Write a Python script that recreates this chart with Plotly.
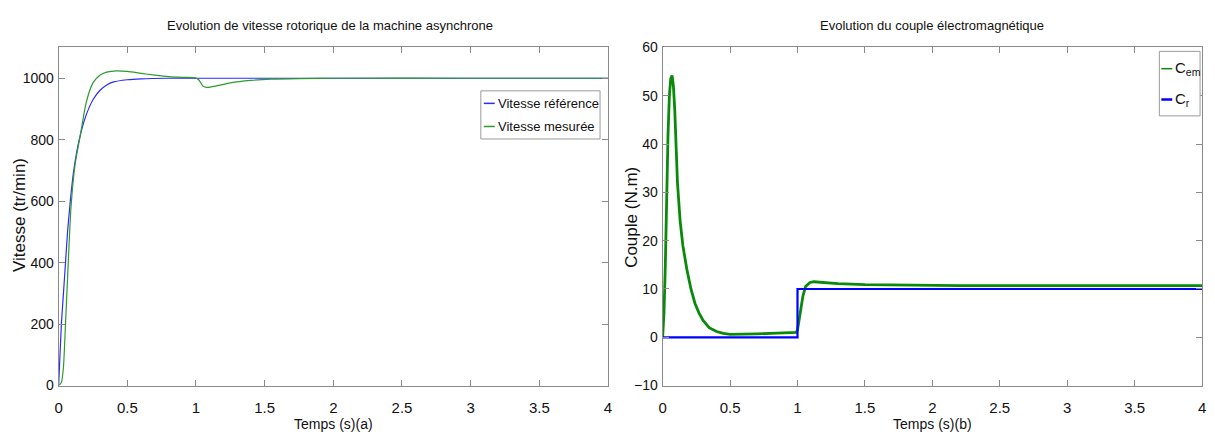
import plotly.graph_objects as go

# Rotor speed (tr/min) versus time (s)
t_ref = [0, 0.01, 0.02, 0.035, 0.05, 0.065, 0.085, 0.11, 0.15, 0.2, 0.25, 0.3, 0.35, 0.4, 0.5, 0.6, 0.8, 1.0, 2.0, 3.0, 4.0]
v_ref = [0, 100, 200, 300, 400, 500, 600, 700, 800, 880, 930, 960, 978, 988, 995, 998, 1000, 1000, 1000, 1000, 1000]

t_mes = [0, 0.02, 0.035, 0.05, 0.07, 0.09, 0.12, 0.16, 0.2, 0.25, 0.3, 0.35, 0.42, 0.5, 0.6, 0.7, 0.8, 0.9, 0.99,
         1.02, 1.05, 1.08, 1.15, 1.25, 1.4, 1.55, 1.75, 2.0, 3.0, 4.0]
v_mes = [0, 10, 60, 200, 400, 580, 720, 820, 920, 985, 1010, 1020, 1024, 1022, 1016, 1010, 1005, 1003, 1002,
         995, 975, 970, 975, 985, 993, 997, 999, 1000, 1000, 1000]

# Electromagnetic torque and load torque (N.m) versus time (s)
t_cem = [0, 0.01, 0.02, 0.03, 0.04, 0.05, 0.06, 0.07, 0.08, 0.09, 0.1, 0.11, 0.13, 0.15, 0.18, 0.21, 0.24, 0.27,
         0.3, 0.345, 0.4, 0.45, 0.5, 0.6, 0.7, 0.8, 0.9, 0.99, 1.0, 1.02, 1.04, 1.06, 1.09, 1.12, 1.2, 1.3,
         1.5, 1.8, 2.2, 3.0, 4.0]
c_em = [0, 5, 15, 30, 42, 50, 53.5, 54.2, 52, 47, 40, 32, 24, 19, 14, 10, 7, 5,
        3.5, 2, 1.2, 0.8, 0.6, 0.6, 0.7, 0.8, 0.9, 1.0, 1.5, 5, 8.5, 10.5, 11.3, 11.5, 11.3, 11.1,
        10.9, 10.8, 10.7, 10.7, 10.7]

t_cr = [0, 1.0, 1.0, 4.0]
c_r = [0, 0, 10, 10]

x_ticks = [0, 0.5, 1, 1.5, 2, 2.5, 3, 3.5, 4]
x_labels = ["0", "0.5", "1", "1.5", "2", "2.5", "3", "3.5", "4"]
yv_ticks = [0, 200, 400, 600, 800, 1000]
yc_ticks = [-10, 0, 10, 20, 30, 40, 50, 60]

FONT = "Liberation Sans, Arial, sans-serif"
INK = "#111111"
AXC = "#8a8a8a"
W, H = 1215, 435

BLUE_THIN = "#2b2bff"
GREEN_THIN = "#2e9a2e"
GREEN_THICK = "#0a8a0a"
BLUE_THICK = "#0000ff"

fig = go.Figure()

fig.add_trace(go.Scatter(x=t_ref, y=v_ref, mode="lines", name="Vitesse référence", showlegend=False,
                         line=dict(color=BLUE_THIN, width=1.2, shape="spline", smoothing=0.6),
                         xaxis="x", yaxis="y"))
fig.add_trace(go.Scatter(x=t_mes, y=v_mes, mode="lines", name="Vitesse mesurée", showlegend=False,
                         line=dict(color=GREEN_THIN, width=1.2, shape="spline", smoothing=0.6),
                         xaxis="x", yaxis="y"))
fig.add_trace(go.Scatter(x=t_cem, y=c_em, mode="lines", name="C<sub>em</sub>", showlegend=False,
                         line=dict(color=GREEN_THICK, width=2.8),
                         xaxis="x2", yaxis="y2"))
fig.add_trace(go.Scatter(x=t_cr, y=c_r, mode="lines", name="C<sub>r</sub>", showlegend=False,
                         line=dict(color=BLUE_THICK, width=2.2),
                         xaxis="x2", yaxis="y2"))

common_x = dict(range=[0, 4], tickvals=x_ticks, ticktext=x_labels, ticks="inside", ticklen=6,
                tickcolor=AXC, showline=True, linecolor=AXC, linewidth=1, mirror="ticks",
                showgrid=False, zeroline=False, ticklabelstandoff=8,
                tickfont=dict(family=FONT, size=15, color=INK),
                title_font=dict(family=FONT, size=14, color=INK), title_standoff=2)
common_y = dict(ticks="inside", ticklen=6, tickcolor=AXC, showline=True, linecolor=AXC, linewidth=1,
                mirror="ticks", showgrid=False, zeroline=False, ticklabelstandoff=1,
                tickfont=dict(family=FONT, size=14, color=INK))


def px(xp):
    return xp / W


def py(yp):
    return 1 - yp / H


# Legend boxes, keys and labels, laid out in paper coordinates
shapes = []
annotations = []


def legend_box(x0, y0, x1, y1):
    shapes.append(dict(type="rect", xref="paper", yref="paper", x0=px(x0), x1=px(x1), y0=py(y1), y1=py(y0),
                       line=dict(color="#9a9a9a", width=1), fillcolor="white", layer="above"))


def legend_item(xl, y, color, width, text, size):
    shapes.append(dict(type="line", xref="paper", yref="paper", x0=px(xl), x1=px(xl + 11), y0=py(y), y1=py(y),
                       line=dict(color=color, width=width), layer="above"))
    annotations.append(dict(text=text, xref="paper", yref="paper", x=px(xl + 12), y=py(y),
                            xanchor="left", yanchor="middle", showarrow=False,
                            font=dict(family=FONT, size=size, color=INK)))


legend_box(480, 86, 600, 136)
legend_item(483, 99, BLUE_THIN, 1.5, "Vitesse référence", 13)
legend_item(483, 123, GREEN_THIN, 1.5, "Vitesse mesurée", 13)

legend_box(1163, 45, 1204, 112)
legend_item(1165, 63, GREEN_THICK, 1.5, "C<sub>em</sub>", 15)
legend_item(1165, 95, BLUE_THICK, 2.5, "C<sub>r</sub>", 15)


def title_text(text, x, y, size=13, angle=0):
    annotations.append(dict(text=text, xref="paper", yref="paper", x=px(x), y=py(y),
                            xanchor="center", yanchor="middle", showarrow=False, textangle=angle,
                            font=dict(family=FONT, size=size, color=INK)))


title_text("Evolution de vitesse rotorique de la machine asynchrone", 328, 18)
title_text("Evolution du couple électromagnétique", 934, 18)
# vertical axis titles
title_text("Vitesse (tr/min)", 15, 215, size=17, angle=-90)
title_text("Couple (N.m)", 631, 217, size=17, angle=-90)

fig.update_layout(
    width=W, height=H,
    margin=dict(l=0, r=0, t=0, b=0),
    paper_bgcolor="white", plot_bgcolor="white",
    showlegend=False,
    xaxis=dict(domain=[px(55), px(608)], anchor="y", title_text="Temps (s)(a)", **common_x),
    yaxis=dict(domain=[py(392), py(41)], anchor="x", range=[0, 1100], tickvals=yv_ticks, **common_y),
    xaxis2=dict(domain=[px(663), px(1206)], anchor="y2", title_text="Temps (s)(b)", **common_x),
    yaxis2=dict(domain=[py(392), py(41)], anchor="x2", range=[-10, 60], tickvals=yc_ticks, **common_y),
    shapes=shapes,
    annotations=annotations,
)

fig.write_html("out.html")
